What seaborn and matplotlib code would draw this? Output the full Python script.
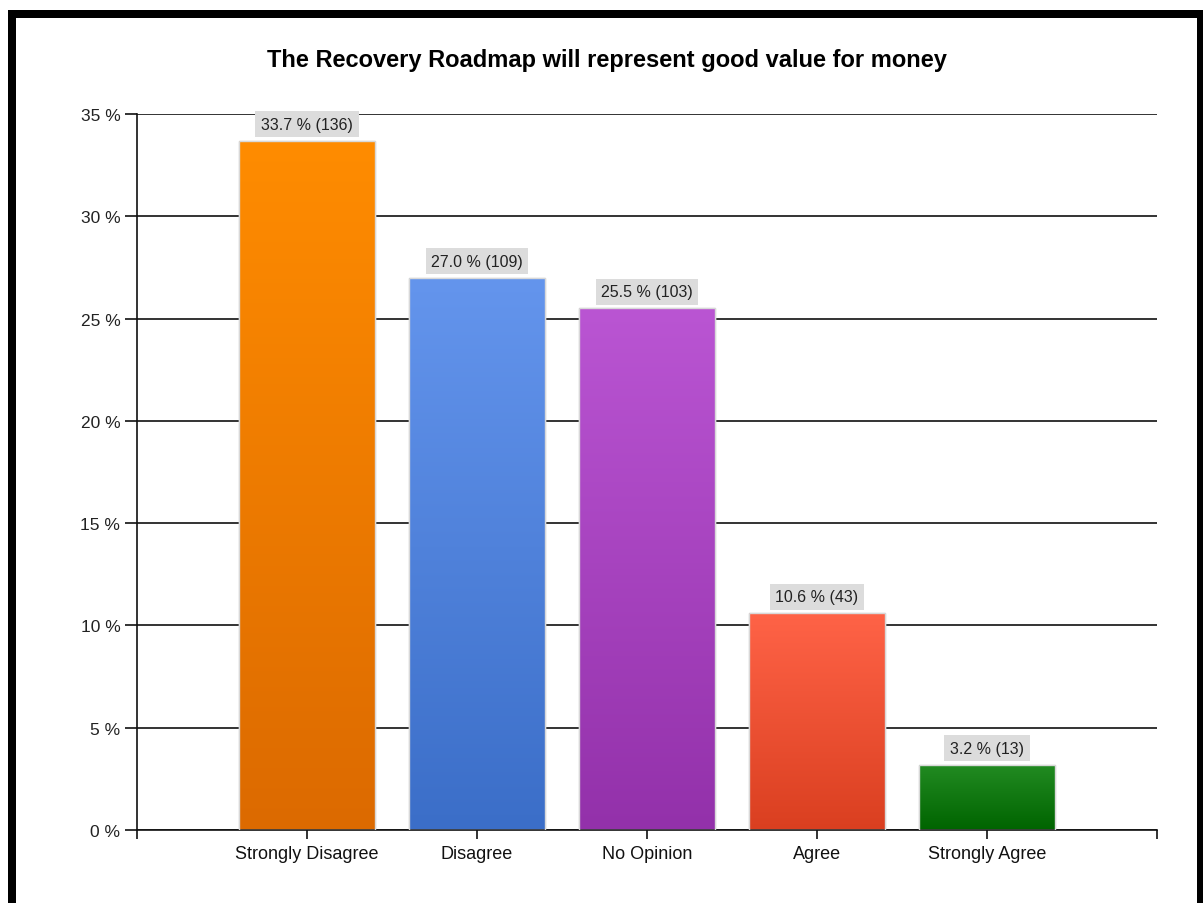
import numpy as np
import pandas as pd
import matplotlib
matplotlib.use("Agg")
import matplotlib.pyplot as plt
from matplotlib.colors import LinearSegmentedColormap
from matplotlib.patches import Rectangle
import seaborn as sns

# Survey results
categories = ["Strongly Disagree", "Disagree", "No Opinion", "Agree", "Strongly Agree"]
percentages = [33.7, 27.0, 25.5, 10.6, 3.2]
counts = [136, 109, 103, 43, 13]
ytick_values = [0, 5, 10, 15, 20, 25, 30, 35]
title = "The Recovery Roadmap will represent good value for money"

# Gradient colours per bar (top, bottom)
top_colors = ["#FF8C00", "#6495ED", "#BA55D3", "#FF6347", "#228B22"]
bottom_colors = ["#DC6A00", "#3B6EC8", "#9331AA", "#DA3F20", "#006400"]

sns.set_theme(style="white")
plt.rcParams["font.family"] = ["Liberation Sans", "DejaVu Sans"]

df = pd.DataFrame({"category": categories, "pct": percentages})

fig = plt.figure(figsize=(12.03, 9.04), dpi=100)
ax = fig.add_axes([137 / 1203, 1 - 831 / 904, 1020 / 1203, 716 / 904])

# Horizontal grid lines behind the bars
ax.set_axisbelow(True)
ax.yaxis.grid(True, color="#111111", linewidth=1.2)
ax.xaxis.grid(False)

sns.barplot(data=df, x="category", y="pct", hue="category", palette=top_colors,
            legend=False, width=0.8, edgecolor="#d8d8d8", linewidth=1.0,
            saturation=1, ax=ax, zorder=2)

ax.set_xlim(-1, 5)
ax.set_ylim(0, 35)

# Paint each bar with a vertical gradient clipped to the bar outline
for patch, ctop, cbot in zip(ax.patches, top_colors, bottom_colors):
    x0, y0 = patch.get_x(), patch.get_y()
    w, h = patch.get_width(), patch.get_height()
    cmap = LinearSegmentedColormap.from_list("g", [cbot, ctop])
    grad = np.linspace(0, 1, 256).reshape(-1, 1)
    im = ax.imshow(grad, cmap=cmap, origin="lower", aspect="auto",
                   extent=[x0, x0 + w, y0, y0 + h], zorder=2.5)
    im.set_clip_path(patch)
    outline = Rectangle((x0, y0), w, h, fill=False, edgecolor="#d8d8d8",
                        linewidth=1.0, zorder=3)
    ax.add_patch(outline)

ax.set_xlim(-1, 5)
ax.set_ylim(0, 35)

# Value labels with light grey boxes
for i, (p, c) in enumerate(zip(percentages, counts)):
    ax.annotate(f"{p:.1f} % ({c})", xy=(i, p), xytext=(0, 6.5),
                textcoords="offset points", ha="center", va="bottom",
                fontsize=11.5, color="#222222", zorder=5,
                bbox=dict(boxstyle="square,pad=0.35", facecolor="#dcdcdc",
                          edgecolor="none"))

# Axes styling
ax.set_xticks([-1, 0, 1, 2, 3, 4, 5])
ax.set_xticklabels([""] + categories + [""], fontsize=13, color="#111111")
ax.set_yticks(ytick_values)
ax.set_yticklabels([f"{v} %" for v in ytick_values], fontsize=12.5, color="#222222")
ax.tick_params(axis="y", direction="out", length=9, width=1.2, color="#111111", pad=3,
               left=True)
ax.tick_params(axis="x", direction="out", length=6.5, width=1.2, color="#111111", pad=4,
               bottom=True)
ax.set_xlabel("")
ax.set_ylabel("")
for side in ["top", "right"]:
    ax.spines[side].set_visible(False)
for side in ["left", "bottom"]:
    ax.spines[side].set_color("#111111")
    ax.spines[side].set_linewidth(1.2)

fig.text(607 / 1203, 1 - 60 / 904, title, ha="center", va="center",
         fontsize=17, fontweight="bold", color="#000000")

# Black frame around the chart
W, H = 1203, 904
frame_kw = dict(transform=fig.transFigure, facecolor="black", edgecolor="none",
                zorder=10)
fig.add_artist(Rectangle((8 / W, 0), 8 / W, (H - 11) / H, **frame_kw))
fig.add_artist(Rectangle((8 / W, 1 - 19 / H), (W - 8) / W, 8 / H, **frame_kw))
fig.add_artist(Rectangle((1197 / W, 0), 6 / W, (H - 11) / H, **frame_kw))

fig.savefig("out.png", dpi=100)
